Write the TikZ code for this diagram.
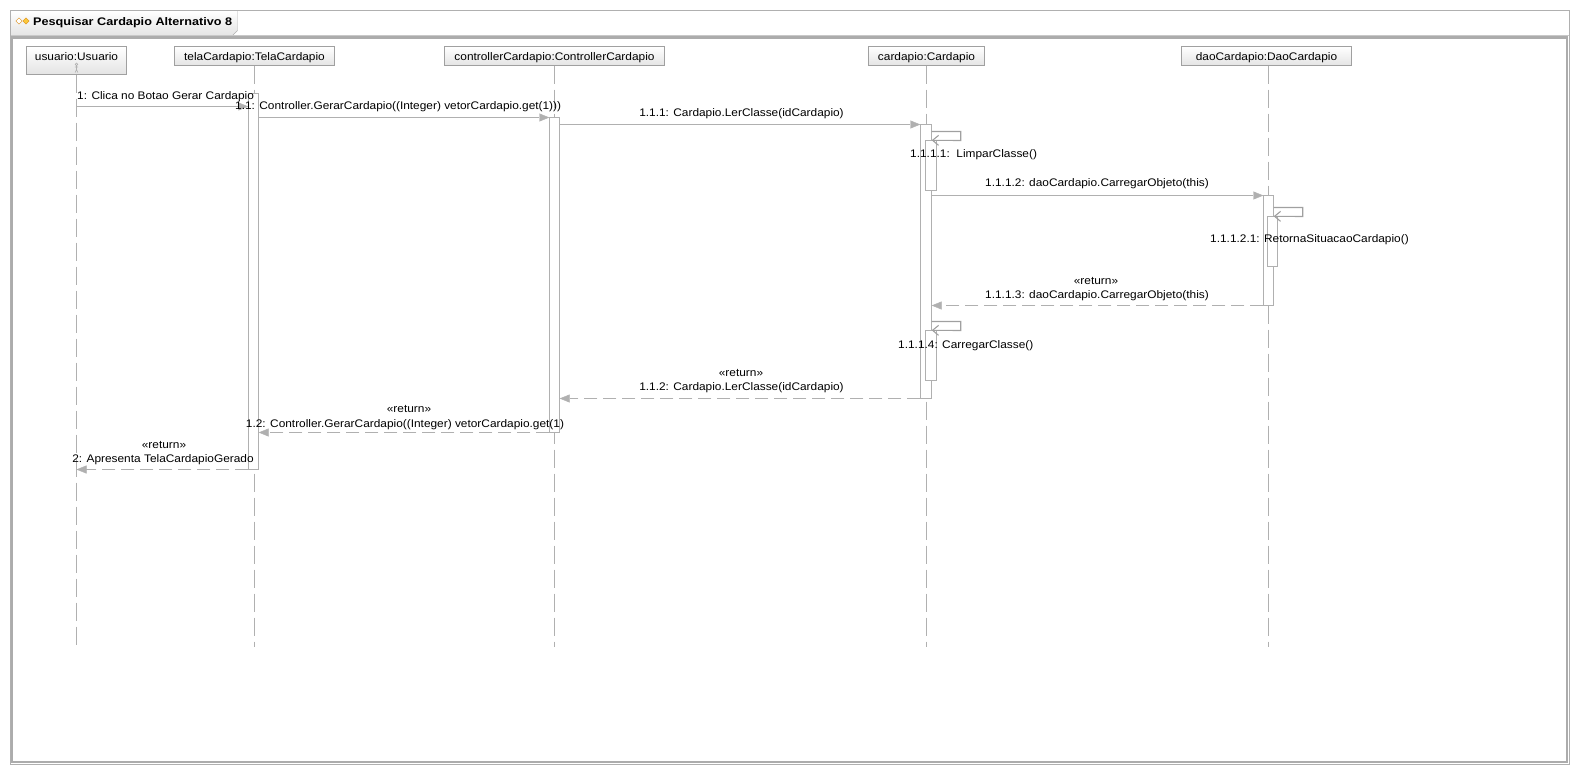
\documentclass[tikz,border=0pt]{standalone}
\usepackage{fontspec}
\setmainfont{Liberation Sans}[FakeStretch=1.08]
\newfontfamily\titlefont{Liberation Sans}[FakeStretch=1.15]
\usetikzlibrary{arrows.meta,shapes.geometric}
\definecolor{wire}{RGB}{176,176,176}
\definecolor{edge}{RGB}{160,160,160}
\definecolor{framegray}{RGB}{172,172,172}
\definecolor{shadebot}{RGB}{228,228,228}
\definecolor{iconline}{RGB}{220,140,20}
\definecolor{iconfill}{RGB}{250,200,60}
\tikzset{
  hdr/.style={draw=edge, top color=white, bottom color=shadebot, inner sep=0pt,
              text height=8pt, text depth=0pt, minimum height=19pt},
  act/.style={draw=wire, fill=white, minimum width=10pt, inner sep=0pt},
  life/.style={draw=wire, dash pattern=on 18pt off 6pt},
  msg/.style={draw=wire, -{Triangle[length=10pt,width=8pt,fill=wire]}},
  ret/.style={msg, dash pattern=on 13pt off 6pt},
  selfmsg/.style={draw=edge, line width=1.1pt, -{Straight Barb[length=6pt,width=10pt]}},
  lbl/.style={inner sep=0pt, anchor=base},
  lblw/.style={inner sep=0pt, anchor=base west},
}
\begin{document}
\begin{tikzpicture}[x=1pt,y=-1pt,font=\fontsize{11}{13}\selectfont]
\useasboundingbox (0,0) rectangle (1580,774);
\fill[white] (0,0) rectangle (1580,774);

% diagram frame and title tab
\draw[draw=wire] (10.5,10.5) rectangle (1569.5,764.5);
\path[top color=white, bottom color=shadebot] (11,11) -- (237.5,11) -- (237.5,30.5) -- (232.5,35.5) -- (11,35.5) -- cycle;
\draw[draw=wire] (237.5,10.5) -- (237.5,30.5) -- (232.5,35.5);
\draw[draw=wire!70] (11,35.5) -- (1569,35.5);
\draw[draw=framegray, line width=2.5pt] (11.75,37.5) rectangle (1567,762);
\node[diamond, draw=iconline, fill=white, minimum size=6.5pt, inner sep=0pt] (ico1) at (19,21) {};
\node[diamond, draw=iconline, fill=iconfill, minimum size=6.5pt, inner sep=0pt] (ico2) at (26,21) {};
\node[lblw, font=\titlefont\fontsize{11}{13}\selectfont\bfseries] (title) at (33,25) {Pesquisar Cardapio Alternativo 8};

% lifeline heads
\node[hdr, minimum width=100pt, minimum height=28pt, text depth=9pt] (usuario) at (76.5,60.5) {usuario:Usuario};
\node[hdr, minimum width=160pt] (tela) at (254.5,56) {telaCardapio:TelaCardapio};
\node[hdr, minimum width=220pt] (ctrl) at (554.5,56) {controllerCardapio:ControllerCardapio};
\node[hdr, minimum width=116pt] (card) at (926.5,56) {cardapio:Cardapio};
\node[hdr, minimum width=170pt] (dao) at (1266.5,56) {daoCardapio:DaoCardapio};

% small actor figure
\begin{scope}[draw=wire, line width=0.6pt]
  \draw (76.5,64.3) circle (1.3);
  \draw (76.5,65.6) -- (76.5,69.5) (74.8,67) -- (78.2,67)
        (76.5,69.5) -- (75.2,72.5) (76.5,69.5) -- (77.8,72.5);
\end{scope}

% lifelines
\coordinate (uEnd) at (76.5,647);
\coordinate (tEnd) at (254.5,647);
\coordinate (cEnd) at (554.5,647);
\coordinate (kEnd) at (926.5,647);
\coordinate (dEnd) at (1268.5,647);
\draw[life] (usuario.south) -- (uEnd);
\draw[life] (tela.south) -- (tEnd);
\draw[life] (ctrl.south) -- (cEnd);
\draw[life] (card.south) -- (kEnd);
\draw[life] (dao.south -| dEnd) -- (dEnd);

% activations
\node[act, minimum height=376pt] (telaA) at (253.5,281.5) {};
\node[act, minimum height=315pt] (ctrlA) at (554.5,275) {};
\node[act, minimum width=11pt, minimum height=274pt] (cardA) at (926,261.5) {};
\node[act, minimum width=11pt, minimum height=50pt] (card1) at (931,165.5) {};
\node[act, minimum height=110pt] (daoA) at (1268.5,250.5) {};
\node[act, minimum height=50pt] (dao1) at (1272.5,241.5) {};
\node[act, minimum width=11pt, minimum height=50pt] (card2) at (931,355.5) {};

% messages
\draw[msg] (usuario.center |- 0,106.5) -- (telaA.west |- 0,106.5);
\node[lblw] (m1) at (77,99.5) {1: Clica no Botao Gerar Cardapio};

\draw[msg] (telaA.east |- 0,117.5) -- (ctrlA.west |- 0,117.5);
\node[lblw] (m11) at (235,109.5) {1.1: Controller.GerarCardapio((Integer) vetorCardapio.get(1)))};

\draw[msg] (ctrlA.east |- 0,124.5) -- (cardA.west |- 0,124.5);
\node[lbl] (m111) at (741.5,116.5) {1.1.1: Cardapio.LerClasse(idCardapio)};

\draw[selfmsg] (cardA.east |- 0,131.5) -- ++(29,0) -- ++(0,9) -- (cardA.east |- card1.north);
\node[lblw] (m1111) at (910,157.5) {1.1.1.1:\ \ LimparClasse()};

\draw[msg] (cardA.east |- 0,195.5) -- (daoA.west |- 0,195.5);
\node[lbl] (m1112) at (1097,186) {1.1.1.2: daoCardapio.CarregarObjeto(this)};

\draw[selfmsg] (daoA.east |- 0,207.5) -- ++(29,0) -- ++(0,9) -- (daoA.east |- dao1.north);
\node[lblw] (m11121) at (1210,242) {1.1.1.2.1: RetornaSituacaoCardapio()};

\draw[ret] (daoA.west |- 0,305.5) -- (cardA.east |- 0,305.5);
\node[lbl] (r1113s) at (1096,284) {«return»};
\node[lbl] (r1113) at (1097,298) {1.1.1.3: daoCardapio.CarregarObjeto(this)};

\draw[selfmsg] (cardA.east |- 0,321.5) -- ++(29,0) -- ++(0,9) -- (cardA.east |- card2.north);
\node[lblw] (m1114) at (898,348.5) {1.1.1.4: CarregarClasse()};

\draw[ret] (cardA.west |- 0,398.5) -- (ctrlA.east |- 0,398.5);
\node[lbl] (r112s) at (741,376) {«return»};
\node[lbl] (r112) at (741.5,390) {1.1.2: Cardapio.LerClasse(idCardapio)};

\draw[ret] (ctrlA.west |- 0,432.5) -- (telaA.east |- 0,432.5);
\node[lbl] (r12s) at (409,412.5) {«return»};
\node[lbl] (r12) at (405,427) {1.2: Controller.GerarCardapio((Integer) vetorCardapio.get(1)};

\draw[ret] (telaA.west |- 0,469.5) -- (usuario.center |- 0,469.5);
\node[lbl] (r2s) at (164,448) {«return»};
\node[lbl] (r2) at (163,462) {2: Apresenta TelaCardapioGerado};
\end{tikzpicture}
\end{document}
